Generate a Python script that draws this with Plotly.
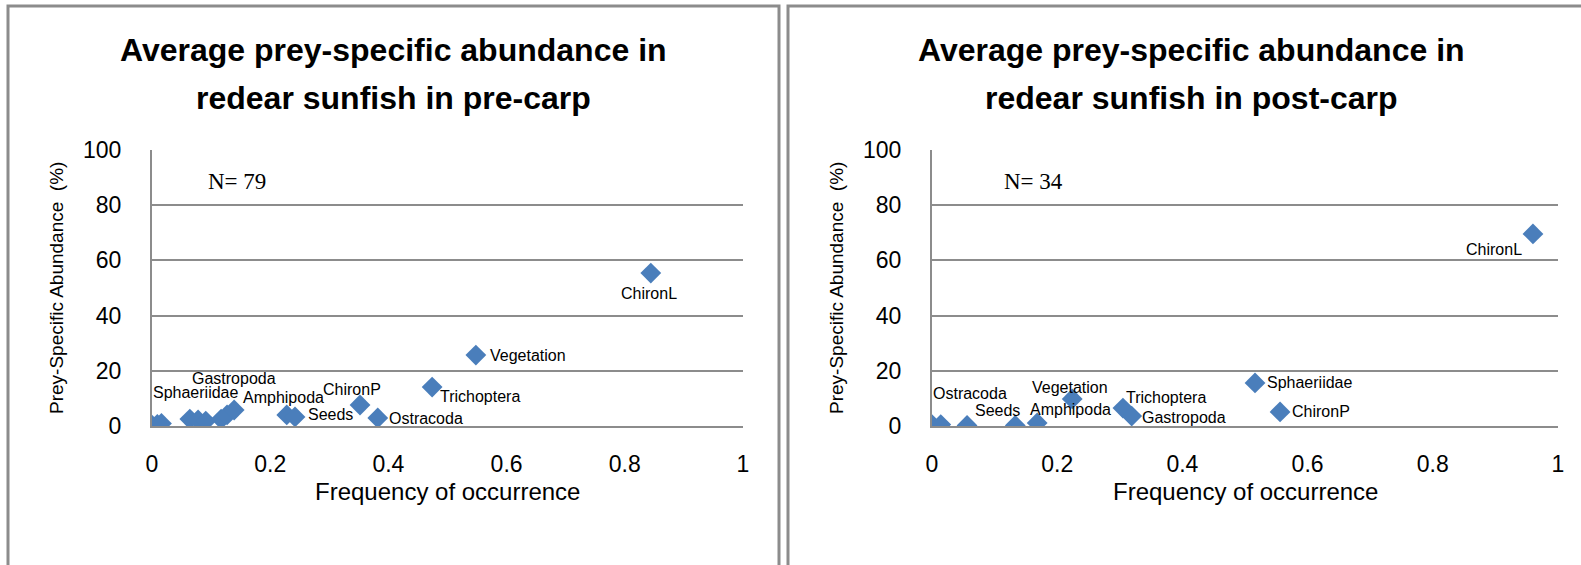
import plotly.graph_objects as go

# Pre-carp diet: frequency of occurrence vs prey-specific abundance (%)
pre_freq = [0.0, 0.009, 0.016, 0.064, 0.078, 0.091, 0.117, 0.127, 0.139,
            0.228, 0.242, 0.352, 0.382, 0.474, 0.548, 0.844]
pre_abund = [0.3, 0.6, 0.9, 2.5, 2.2, 1.8, 2.5, 4.0, 5.8,
             4.0, 3.3, 7.6, 2.9, 14.1, 25.7, 55.4]
pre_names = ["", "", "", "", "Sphaeriidae", "", "", "", "Gastropoda",
             "Amphipoda", "Seeds", "ChironP", "Ostracoda", "Trichoptera",
             "Vegetation", "ChironL"]

# Post-carp diet
post_freq = [0.0, 0.014, 0.056, 0.133, 0.168, 0.224, 0.305, 0.319, 0.516, 0.556, 0.96]
post_abund = [0.5, 0.5, 0.2, 0.2, 1.1, 9.8, 6.5, 3.6, 15.6, 5.1, 69.6]
post_names = ["", "", "Ostracoda", "Seeds", "Amphipoda", "Vegetation",
              "Trichoptera", "Gastropoda", "Sphaeriidae", "ChironP", "ChironL"]

x_ticks = [0, 0.2, 0.4, 0.6, 0.8, 1]
x_tick_text = ["0", "0.2", "0.4", "0.6", "0.8", "1"]
y_ticks = [0, 20, 40, 60, 80, 100]

title_lines = [["Average prey-specific abundance in", "redear sunfish in pre-carp"],
               ["Average prey-specific abundance in", "redear sunfish in post-carp"]]
sample_sizes = ["N= 79", "N= 34"]

# label placement: (xanchor, xshift, yshift) in pixels relative to the marker
pre_label_pos = {
    "Sphaeriidae": ("center", -2, 27),
    "Gastropoda": ("center", 0, 31),
    "Amphipoda": ("center", -3, 17),
    "Seeds": ("left", 11, 2),
    "ChironP": ("center", -8, 16),
    "Ostracoda": ("left", 9, 0),
    "Trichoptera": ("left", 6, -9),
    "Vegetation": ("left", 12, 0),
    "ChironL": ("center", -2, -20),
}
post_label_pos = {
    "Ostracoda": ("center", 3, 32),
    "Seeds": ("center", -18, 15),
    "Amphipoda": ("center", 33, 13),
    "Vegetation": ("center", -2, 11),
    "Trichoptera": ("left", 1, 11),
    "Gastropoda": ("left", 8, -1),
    "Sphaeriidae": ("left", 10, 0),
    "ChironP": ("left", 10, 0),
    "ChironL": ("right", -9, -16),
}

W, H = 1581, 565
MARKER = "#4a7ebb"
GRID = "#8c8c8c"
SANS = "Liberation Sans, Arial, sans-serif"


def py(px):
    """Convert a pixel row (from the top) to paper coordinates."""
    return 1 - px / H


fig = go.Figure()

panels = [
    dict(x=pre_freq, y=pre_abund, names=pre_names, pos=pre_label_pos,
         xa="x", ya="y", xdom=(152, 743), title_cx=393, n_x=206),
    dict(x=post_freq, y=post_abund, names=post_names, pos=post_label_pos,
         xa="x2", ya="y2", xdom=(932, 1558), title_cx=1191, n_x=1002),
]

y_dom = [py(426), py(150)]

annotations = []
for i, p in enumerate(panels):
    fig.add_trace(go.Scatter(
        x=p["x"], y=p["y"], mode="markers", xaxis=p["xa"], yaxis=p["ya"],
        marker=dict(symbol="diamond", size=16, color=MARKER, line=dict(width=0)),
        showlegend=False, hoverinfo="x+y",
    ))
    for xv, yv, nm in zip(p["x"], p["y"], p["names"]):
        if not nm:
            continue
        anchor, dx, dy = p["pos"][nm]
        annotations.append(dict(
            x=xv, y=yv, xref=p["xa"], yref=p["ya"], text=nm, showarrow=False,
            xanchor=anchor, yanchor="middle", xshift=dx, yshift=dy,
            font=dict(family=SANS, size=16, color="#000000"),
        ))
    # chart title, two lines
    for line, row in zip(title_lines[i], (50, 98)):
        annotations.append(dict(
            x=p["title_cx"] / W, y=py(row), xref="paper", yref="paper",
            text="<b>" + line + "</b>", showarrow=False,
            xanchor="center", yanchor="middle",
            font=dict(family=SANS, size=32, color="#000000"),
        ))
    # sample size note
    annotations.append(dict(
        x=p["n_x"] / W, y=py(181), xref="paper", yref="paper",
        text=sample_sizes[i], showarrow=False, xanchor="left", yanchor="middle",
        font=dict(family="Liberation Serif, Times New Roman, serif", size=23,
                  color="#000000"),
    ))
    # axis titles
    annotations.append(dict(
        x=(p["xdom"][0] - 96) / W, y=py(288), xref="paper", yref="paper",
        text="Prey-Specific Abundance  (%)", showarrow=False, textangle=-90,
        xanchor="center", yanchor="middle",
        font=dict(family=SANS, size=19, color="#000000"),
    ))
    annotations.append(dict(
        x=(p["xdom"][0] + p["xdom"][1]) / 2 / W, y=py(491),
        xref="paper", yref="paper", text="Frequency of occurrence",
        showarrow=False, xanchor="center", yanchor="middle",
        font=dict(family=SANS, size=24, color="#000000"),
    ))

axis_common = dict(showline=True, linecolor=GRID, linewidth=2,
                   ticks="", zeroline=False, automargin=False,
                   tickfont=dict(family=SANS, size=23, color="#000000"))

layout = dict(
    template="none",
    width=W, height=H, margin=dict(l=0, r=0, t=0, b=0, pad=0),
    paper_bgcolor="white", plot_bgcolor="white",
    annotations=annotations,
    shapes=[
        dict(type="rect", xref="paper", yref="paper",
             x0=8 / W, x1=779 / W, y0=-0.05, y1=py(6),
             line=dict(color="#8c8c8c", width=3)),
        dict(type="rect", xref="paper", yref="paper",
             x0=788 / W, x1=1.05, y0=-0.05, y1=py(6),
             line=dict(color="#8c8c8c", width=3)),
    ],
)

for i, p in enumerate(panels):
    xk = "xaxis" if i == 0 else "xaxis2"
    yk = "yaxis" if i == 0 else "yaxis2"
    layout[xk] = dict(
        axis_common, domain=[p["xdom"][0] / W, p["xdom"][1] / W], range=[0, 1],
        tickvals=x_ticks, ticktext=x_tick_text, showgrid=False,
        anchor=p["ya"], ticklabelstandoff=16,
    )
    layout[yk] = dict(
        axis_common, domain=y_dom, range=[0, 100], tickvals=y_ticks,
        showgrid=True, gridcolor=GRID, gridwidth=2, anchor=p["xa"],
        ticklabelstandoff=24,
    )

fig.update_layout(**layout)
fig.write_html("out.html")
